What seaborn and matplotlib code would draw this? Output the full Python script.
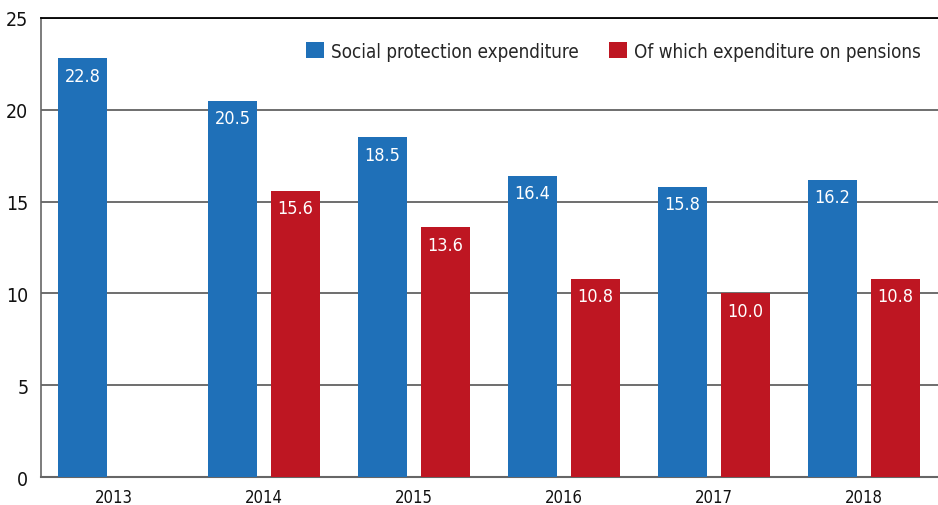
import pandas as pd
import matplotlib.pyplot as plt
import seaborn as sns
import numpy as np

# Chart values
years = ['2013', '2014', '2015', '2016', '2017', '2018']
social_protection = [22.8, 20.5, 18.5, 16.4, 15.8, 16.2]
pensions = [np.nan, 15.6, 13.6, 10.8, 10.0, 10.8]
series_names = ['Social protection expenditure', 'Of which expenditure on pensions']
colors = ['#1f70b8', '#be1622']

# Long format for seaborn
df = pd.DataFrame({
    'Year': years * 2,
    'Value': social_protection + pensions,
    'Series': [series_names[0]] * len(years) + [series_names[1]] * len(years),
})

sns.set_style('white')
plt.rcParams['font.family'] = ['DejaVu Sans']
plt.rcParams['font.stretch'] = 'condensed'

fig = plt.figure(figsize=(9.38, 5.06), dpi=100)
ax = fig.add_axes([0.0437, 0.0553, 0.9563, 0.9072])

sns.barplot(data=df, x='Year', y='Value', hue='Series', hue_order=series_names,
            palette=colors, width=0.84, gap=0.22, ax=ax, saturation=1,
            edgecolor='none', zorder=3)

# Values inside the top of each bar
for cont in ax.containers:
    ax.bar_label(cont, fmt='%.1f', padding=-19, color='white', fontsize=13)

ax.set_ylim(0, 25)
ax.set_yticks([0, 5, 10, 15, 20, 25])
ax.set_xlim(-0.487, 5.493)
ax.set_xlabel('')
ax.set_ylabel('')

# Horizontal grid lines
ax.yaxis.grid(True, color='#555555', linewidth=1.2, zorder=0)
ax.set_axisbelow(True)
ax.spines['right'].set_visible(False)
ax.spines['top'].set_color('black')
ax.spines['top'].set_linewidth(1.3)
ax.spines['left'].set_color('#666666')
ax.spines['bottom'].set_color('#666666')
ax.spines['left'].set_linewidth(1.2)
ax.spines['bottom'].set_linewidth(1.5)

ax.tick_params(axis='y', labelsize=14, length=0, pad=9, labelcolor='#111111')
ax.tick_params(axis='x', labelsize=12, length=0, pad=8, labelcolor='#111111')

leg = ax.legend(loc='upper right', frameon=False, ncol=2, fontsize=13.5,
                handlelength=0.95, handleheight=0.95, handletextpad=0.4,
                columnspacing=1.6, bbox_to_anchor=(1.0, 0.985))

fig.savefig('out.png', dpi=100)
